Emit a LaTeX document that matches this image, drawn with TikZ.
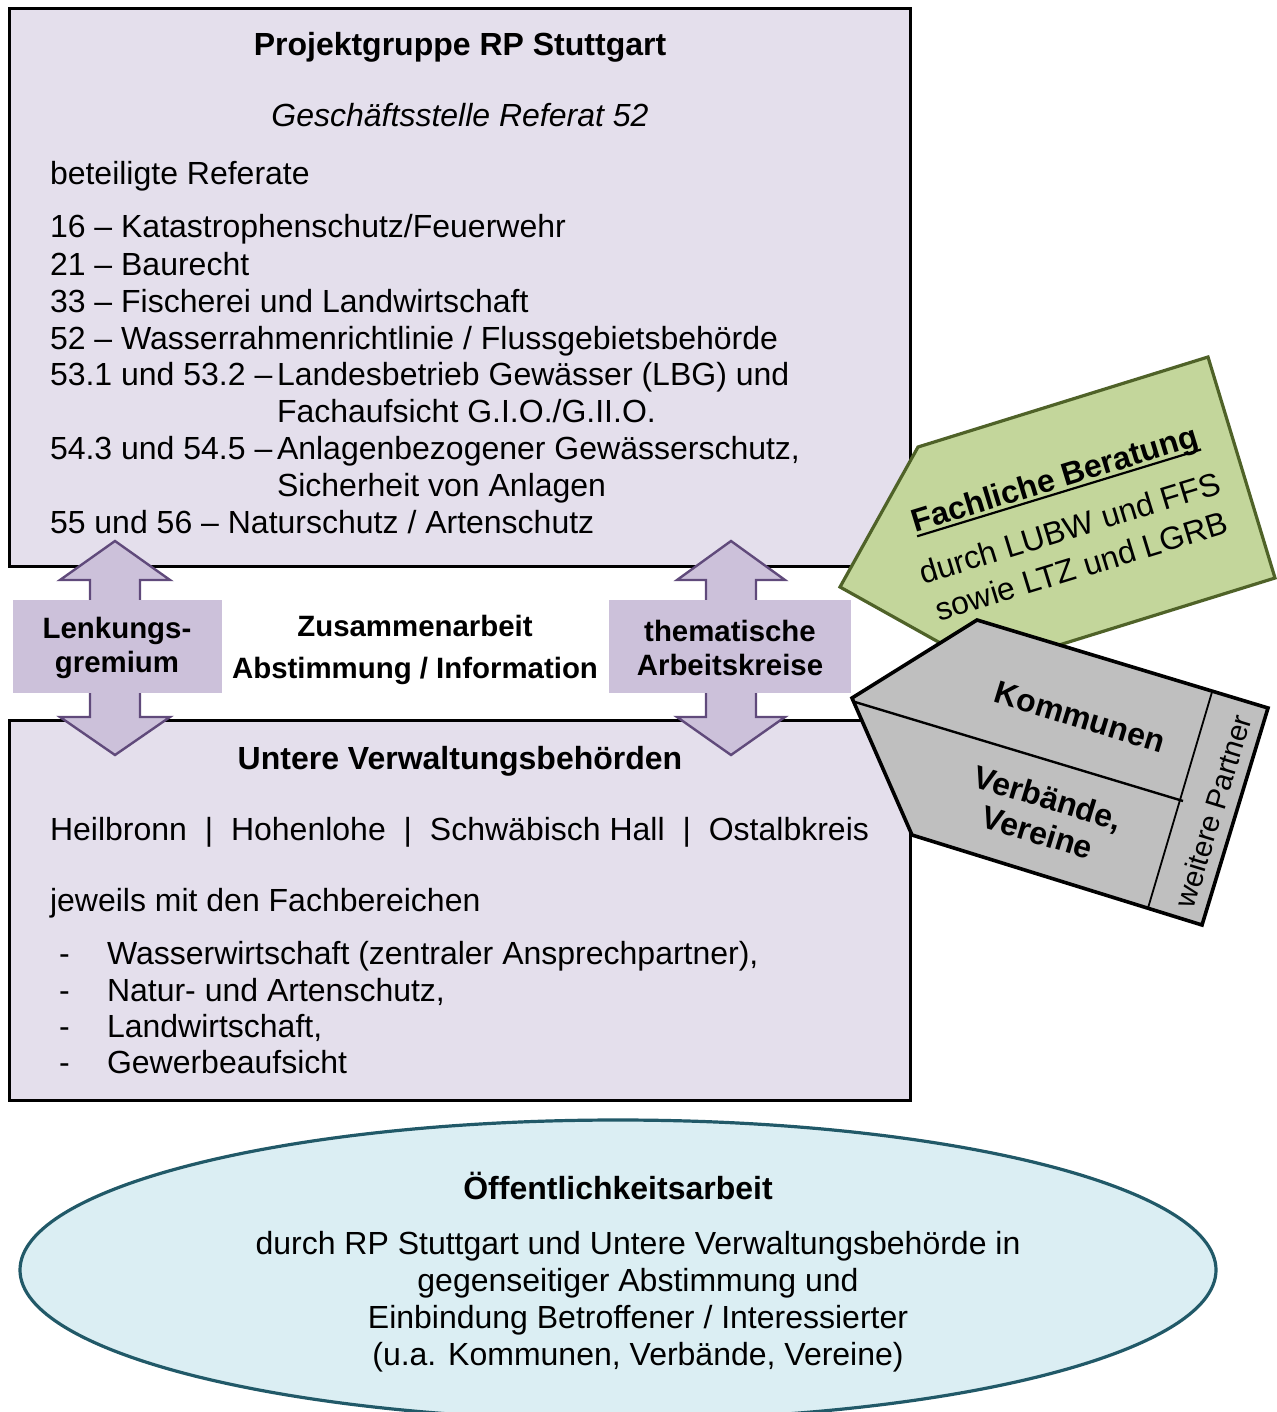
\documentclass[tikz,border=0pt]{standalone}
\usepackage{fontspec}
\setmainfont{Liberation Sans}
\newsavebox{\ulbox}
\newcommand{\myunderl}[1]{\sbox{\ulbox}{#1}\rlap{\rule[-2.6pt]{\wd\ulbox}{1.1pt}}\usebox{\ulbox}}
\usetikzlibrary{shapes.geometric}
\definecolor{boxfill}{HTML}{E4DFEC}
\definecolor{arrfill}{HTML}{CCC1DA}
\definecolor{arrline}{HTML}{604A7B}
\definecolor{greenfill}{HTML}{C3D69B}
\definecolor{greenline}{HTML}{4F6228}
\definecolor{grayfill}{HTML}{BFBFBF}
\definecolor{ellfill}{HTML}{DBEEF3}
\definecolor{ellline}{HTML}{215968}
\begin{document}
\begin{tikzpicture}[x=0.5pt,y=-0.5pt,
  txt/.style={font=\fontsize{16}{18.5}\selectfont, inner sep=0pt, outer sep=0pt},
  ltxt/.style={txt, anchor=base west},
  ctxt/.style={txt, anchor=base},
  btxt/.style={txt, font=\fontsize{16}{18.5}\selectfont\bfseries},
  stxt/.style={txt, align=center, font=\fontsize{14.7}{17}\selectfont\bfseries},
  mainbox/.style={draw=black, line width=1.5pt, fill=boxfill},
  dblarrow/.style={draw=arrline, line width=1.2pt, fill=arrfill, line join=miter},
  lblbox/.style={fill=arrfill, draw=none}]
\useasboundingbox (0,0) rectangle (1276,1412);

% main boxes
\path[mainbox] (9,9) rectangle (910,566);
\path[mainbox] (9,720) rectangle (910,1100);

% ellipse
\node[ellipse, draw=ellline, line width=1.6pt, fill=ellfill, minimum width=1196*0.5pt, minimum height=300*0.5pt, inner sep=0pt] (oeff) at (618,1270) {};

% top box texts
\node[ctxt, font=\fontsize{16}{18.5}\selectfont\bfseries] (ptitle) at (460,56) {Projektgruppe RP Stuttgart};
\node[ctxt, font=\fontsize{16}{18.5}\selectfont\itshape] (gsst) at (460,127) {Geschäftsstelle Referat 52};
\node[ltxt] (betref) at (50,185) {beteiligte Referate};
\node[ltxt] (r16) at (50,238) {16 – Katastrophenschutz/Feuerwehr};
\node[ltxt] (r21) at (50,275) {21 – Baurecht};
\node[ltxt] (r33) at (50,312) {33 – Fischerei und Landwirtschaft};
\node[ltxt] (r52) at (50,349) {52 – Wasserrahmenrichtlinie / Flussgebietsbehörde};
\node[ltxt] (r53) at (50,385) {53.1 und 53.2 –};
\node[ltxt] (r53a) at (277,385) {Landesbetrieb Gewässer (LBG) und};
\node[ltxt] (r53b) at (277,422) {Fachaufsicht G.I.O./G.II.O.};
\node[ltxt] (r54) at (50,459) {54.3 und 54.5 –};
\node[ltxt] (r54a) at (277,459) {Anlagenbezogener Gewässerschutz,};
\node[ltxt] (r54b) at (277,496) {Sicherheit von Anlagen};
\node[ltxt] (r55) at (50,533) {55 und 56 – Naturschutz / Artenschutz};

% bottom box texts
\node[ctxt, font=\fontsize{16}{18.5}\selectfont\bfseries] (uvb) at (460,769) {Untere Verwaltungsbehörden};
\node[ltxt] (kreise) at (50,840) {Heilbronn\hspace{0.56em}|\hspace{0.56em}Hohenlohe\hspace{0.56em}|\hspace{0.56em}Schwäbisch Hall\hspace{0.56em}|\hspace{0.56em}Ostalbkreis};
\node[ltxt] (jew) at (50,911) {jeweils mit den Fachbereichen};
\foreach \nm/\yy/\tx in {fa/964/{Wasserwirtschaft (zentraler Ansprechpartner),},
                          fb/1001/{Natur- und Artenschutz,},
                          fc/1037/{Landwirtschaft,},
                          fd/1073/{Gewerbeaufsicht}} {
  \node[ltxt] (d\nm) at (59,\yy) {-};
  \node[ltxt] (\nm) at (107,\yy) {\tx};
}

% double arrows
\path[dblarrow] (115,541) -- (170,580) -- (140,580) -- (140,717) -- (170,717) -- (115,755)
   -- (60,717) -- (90,717) -- (90,580) -- (60,580) -- cycle;
\path[dblarrow] (731,541) -- (785,580) -- (756,580) -- (756,717) -- (785,717) -- (731,755)
   -- (677,717) -- (706,717) -- (706,580) -- (677,580) -- cycle;
\path[lblbox] (13,600) rectangle (222,693);
\path[lblbox] (609,600) rectangle (851,693);
\node[stxt] (lenk) at (117,648) {Lenkungs-\\gremium};
\node[stxt] (them) at (730,648) {thematische\\Arbeitskreise};
\node[stxt, font=\fontsize{14.7}{21}\selectfont\bfseries] (zus) at (415,650) {Zusammenarbeit\\Abstimmung / Information};

% green pentagon
\path[draw=greenline, line width=1.6pt, fill=greenfill, line join=miter]
  (840,587) -- (918,447) -- (1208,357) -- (1275,578) -- (985,668) -- cycle;
\node[txt, rotate=17, align=center, font=\fontsize{16}{20}\selectfont] (fach) at (1068,522)
  {\myunderl{\bfseries Fachliche Beratung}\\[6pt]durch LUBW und FFS\\sowie LTZ und LGRB};

% gray shape
\path[draw=black, line width=1.8pt, fill=grayfill, line join=miter]
  (852,698) -- (977,620) -- (1268,708) -- (1202,925) -- (912,835) -- cycle;
\draw[black, line width=1.2pt] (855,702) -- (1183,801);
\draw[black, line width=0.9pt] (1212,692) -- (1148,908);
\node[btxt, rotate=-17] (komm) at (1080,717) {Kommunen};
\node[btxt, rotate=-17, align=center, font=\fontsize{16}{18}\selectfont\bfseries] (verb) at (1043,815) {Verbände,\\Vereine};
\node[txt, rotate=73, font=\fontsize{14.7}{17}\selectfont] (weit) at (1213,811) {weitere Partner};

% ellipse texts
\node[ctxt, font=\fontsize{16}{18.5}\selectfont\bfseries] (oefft) at (618,1199) {Öffentlichkeitsarbeit};
\node[ctxt] (e1) at (638,1254) {durch RP Stuttgart und Untere Verwaltungsbehörde in};
\node[ctxt] (e2) at (638,1291) {gegenseitiger Abstimmung und};
\node[ctxt] (e3) at (638,1328) {Einbindung Betroffener / Interessierter};
\node[ctxt] (e4) at (638,1365) {(u.a. Kommunen, Verbände, Vereine)};
\end{tikzpicture}
\end{document}
